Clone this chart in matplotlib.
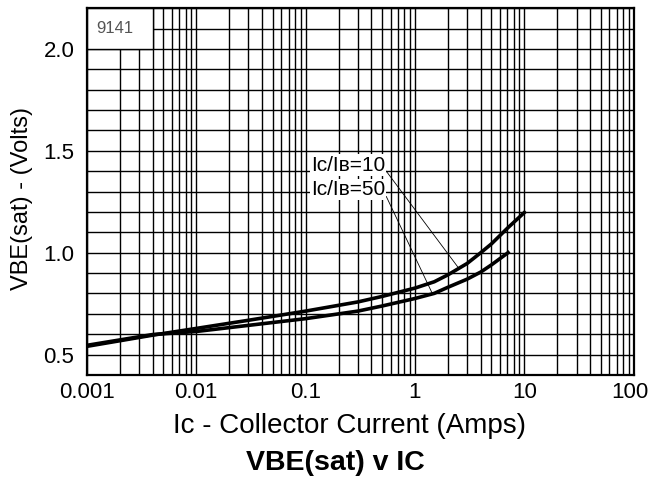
import numpy as np
import matplotlib
matplotlib.use('Agg')
import matplotlib.pyplot as plt
from matplotlib.patches import Rectangle
from matplotlib.transforms import ScaledTranslation

plt.rcParams['font.family'] = ['Liberation Sans', 'DejaVu Sans']

# curve readings, Ic in amps, VBE(sat) in volts
ic_10 = [0.001, 0.004, 0.01, 0.03, 0.1, 0.3, 0.5, 1.0, 1.5, 2.0, 3.0, 4.0, 5.0, 7.0, 10.0]
vbe_10 = [0.540, 0.595, 0.628, 0.668, 0.713, 0.758, 0.785, 0.826, 0.857, 0.891, 0.947, 1.0, 1.043, 1.12, 1.197]

ic_50 = [0.001, 0.004, 0.01, 0.03, 0.1, 0.3, 0.5, 1.0, 1.5, 2.0, 3.0, 4.0, 5.0, 7.1]
vbe_50 = [0.545, 0.598, 0.613, 0.643, 0.676, 0.713, 0.738, 0.775, 0.800, 0.830, 0.870, 0.905, 0.940, 1.0]

x_ticks = [0.001, 0.01, 0.1, 1, 10, 100]
x_ticklabels = ['0.001', '0.01', '0.1', '1', '10', '100']
y_ticks = [0.5, 1.0, 1.5, 2.0]
y_ticklabels = ['0.5', '1.0', '1.5', '2.0']

fig = plt.figure(figsize=(6.48, 4.8), dpi=100)
ax = fig.add_axes([0.134, 0.219, 0.844, 0.764])

ax.plot(ic_10, vbe_10, color='black', lw=2.6, solid_joinstyle='round', zorder=3)
ax.plot(ic_50, vbe_50, color='black', lw=2.6, solid_joinstyle='round', zorder=3)

ax.set_xscale('log')
ax.set_xlim(0.001, 100)
ax.set_ylim(0.4, 2.2)
ax.set_xticks(x_ticks)
ax.set_xticklabels(x_ticklabels)
ax.set_yticks(y_ticks)
ax.set_yticklabels(y_ticklabels)
ax.set_yticks(np.arange(0.4, 2.21, 0.1), minor=True)
ax.xaxis.set_minor_locator(matplotlib.ticker.LogLocator(base=10, subs=np.arange(2, 10)))
ax.xaxis.set_minor_formatter(matplotlib.ticker.NullFormatter())
ax.tick_params(which='both', length=0, labelsize=16, pad=5)
ax.tick_params(axis='y', pad=9)

# nudge "100" in so it stays on the page
last = ax.get_xticklabels()[-1]
last.set_transform(last.get_transform() + ScaledTranslation(-3 / 72, 0, fig.dpi_scale_trans))

ax.set_axisbelow(True)
ax.grid(which='both', color='black', lw=1.0)
for s in ax.spines.values():
    s.set_linewidth(1.6)

# part number box in the corner
ax.add_patch(Rectangle((0.001, 2.0), 0.003, 0.2, facecolor='white',
                       edgecolor='black', lw=1.0, zorder=1))
ax.text(0.00122, 2.1, '9141', fontsize=12, color='#555555', va='center', zorder=2)

ax.annotate('I\u1d04/I\u0299=10', xy=(2.5, 0.925), xytext=(0.112, 1.43),
            fontsize=15, va='center', ha='left', zorder=4,
            bbox=dict(boxstyle='square,pad=0.05', fc='white', ec='none'),
            arrowprops=dict(arrowstyle='-', color='black', lw=0.6,
                            relpos=(1, 0.25), shrinkA=0, shrinkB=0))
ax.annotate('I\u1d04/I\u0299=50', xy=(1.43, 0.803), xytext=(0.112, 1.31),
            fontsize=15, va='center', ha='left', zorder=4,
            bbox=dict(boxstyle='square,pad=0.05', fc='white', ec='none'),
            arrowprops=dict(arrowstyle='-', color='black', lw=0.6,
                            relpos=(1, 0.25), shrinkA=0, shrinkB=0))

ax.set_ylabel('VBE(sat) - (Volts)', fontsize=17, ha='center', va='center')
ax.yaxis.set_label_coords(-0.119, 0.48)
fig.text(0.54, 0.113, 'I\u1d04 - Collector Current (Amps)', fontsize=20,
         ha='center', va='center')
fig.text(0.517, 0.035, 'VBE(sat) v IC', fontsize=20.5, fontweight='bold',
         ha='center', va='center')

fig.savefig('out.png', dpi=100)
